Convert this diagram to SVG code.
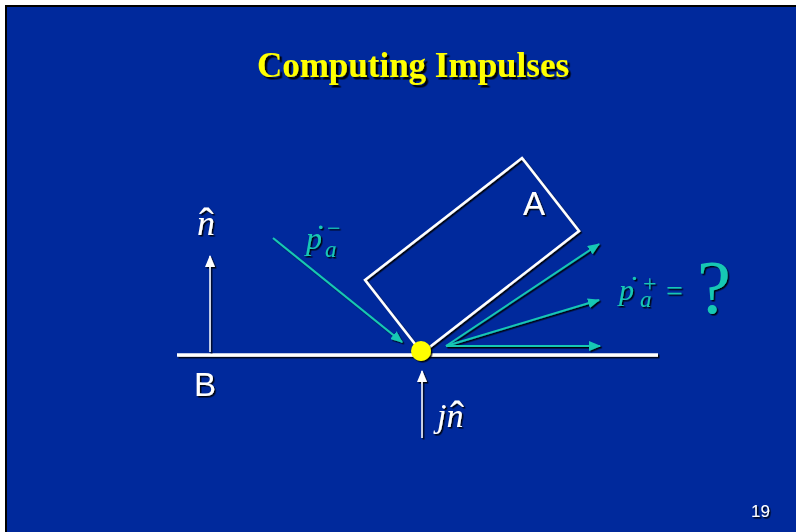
<svg xmlns="http://www.w3.org/2000/svg" width="796" height="532" viewBox="0 0 796 532">
<defs>
<filter id="sh" x="-20%" y="-20%" width="140%" height="140%">
<feDropShadow dx="1.5" dy="1.5" stdDeviation="0" flood-color="#000000" flood-opacity="0.9"/>
</filter>
<filter id="sh2" x="-20%" y="-20%" width="140%" height="140%">
<feDropShadow dx="2.5" dy="2.5" stdDeviation="0" flood-color="#000000" flood-opacity="0.95"/>
</filter>
<marker id="aw" viewBox="0 0 12 10" refX="11" refY="5" markerWidth="12" markerHeight="10" markerUnits="userSpaceOnUse" orient="auto">
<path d="M0,0 L12,5 L0,10 Z" fill="#ffffff"/>
</marker>
<marker id="ac" viewBox="0 0 12 10" refX="11" refY="5" markerWidth="12" markerHeight="10" markerUnits="userSpaceOnUse" orient="auto">
<path d="M0,0 L12,5 L0,10 Z" fill="#19c8b4"/>
</marker>
</defs>
<style>
.title{font-family:"Liberation Serif","Times New Roman",serif;font-weight:bold;font-size:35px;fill:#ffff00}
.sans{font-family:"Liberation Sans",Arial,sans-serif;fill:#ffffff}
.math{font-family:"Liberation Serif","Times New Roman",serif;font-style:italic}
.up{font-style:normal}
.w{fill:#ffffff}
.c{fill:#19c8b4}
.wl{stroke:#ffffff;fill:none}
.cl{stroke:#19c8b4;fill:none;stroke-width:2}
</style>
<rect x="0" y="0" width="796" height="532" fill="#ffffff"/>
<rect x="5" y="5" width="791" height="527" fill="#000000"/>
<rect x="7" y="7" width="789" height="525" fill="#00299c"/>

<g id="title" filter="url(#sh2)">
<text class="title" x="413" y="77" text-anchor="middle">Computing Impulses</text>
</g>

<g id="ground" filter="url(#sh)">
<line class="wl" x1="177" y1="355" x2="658" y2="355" stroke-width="3.5"/>
<text class="sans" x="194" y="396" font-size="33">B</text>
</g>

<g id="bodyA" filter="url(#sh)">
<polygon class="wl" stroke-width="2.5" points="365,280 522,158 579,231 422,353"/>
<text class="sans" x="523" y="215" font-size="33">A</text>
</g>

<g id="connectors" filter="url(#sh)">
<line class="wl" stroke-width="1.5" x1="210" y1="352" x2="210" y2="256" marker-end="url(#aw)"/>
<line class="wl" stroke-width="1.5" x1="422" y1="438" x2="422" y2="371" marker-end="url(#aw)"/>
<line class="cl" x1="273" y1="238" x2="402" y2="342" marker-end="url(#ac)"/>
<line class="cl" x1="446" y1="346" x2="599" y2="244" marker-end="url(#ac)"/>
<line class="cl" x1="446" y1="346" x2="599" y2="300" marker-end="url(#ac)"/>
<line class="cl" x1="446" y1="346" x2="600" y2="346" marker-end="url(#ac)"/>
</g>

<g id="contact" filter="url(#sh)">
<circle cx="421" cy="351" r="10" fill="#ffff00"/>
</g>

<g id="label-n" filter="url(#sh)">
<text class="math w" x="197" y="235" font-size="36">n<tspan class="up" x="199" y="238" font-size="44">ˆ</tspan></text>
</g>

<g id="label-jn" filter="url(#sh)">
<text class="math w" x="437" y="427" font-size="34">jn<tspan class="up" x="450" y="430" font-size="42">ˆ</tspan></text>
</g>

<g id="label-pminus" filter="url(#sh)">
<text class="math c" x="306" y="249" font-size="32">p<tspan class="up" x="315" y="248" font-size="34">˙</tspan><tspan x="325" y="257" font-size="23">a</tspan><tspan class="up" x="327" y="236" font-size="24">−</tspan></text>
</g>

<g id="label-pplus" filter="url(#sh)">
<text class="math c" x="619" y="300" font-size="30">p<tspan class="up" x="629" y="298" font-size="32">˙</tspan><tspan x="640" y="307" font-size="23">a</tspan><tspan class="up" x="643" y="291" font-size="24">+</tspan><tspan class="up" x="666" y="301" font-size="30">=</tspan><tspan class="up" x="697" y="313" font-size="76">?</tspan></text>
</g>

<g id="pagenum" filter="url(#sh)">
<text class="sans" x="751" y="517" font-size="17">19</text>
</g>
</svg>
